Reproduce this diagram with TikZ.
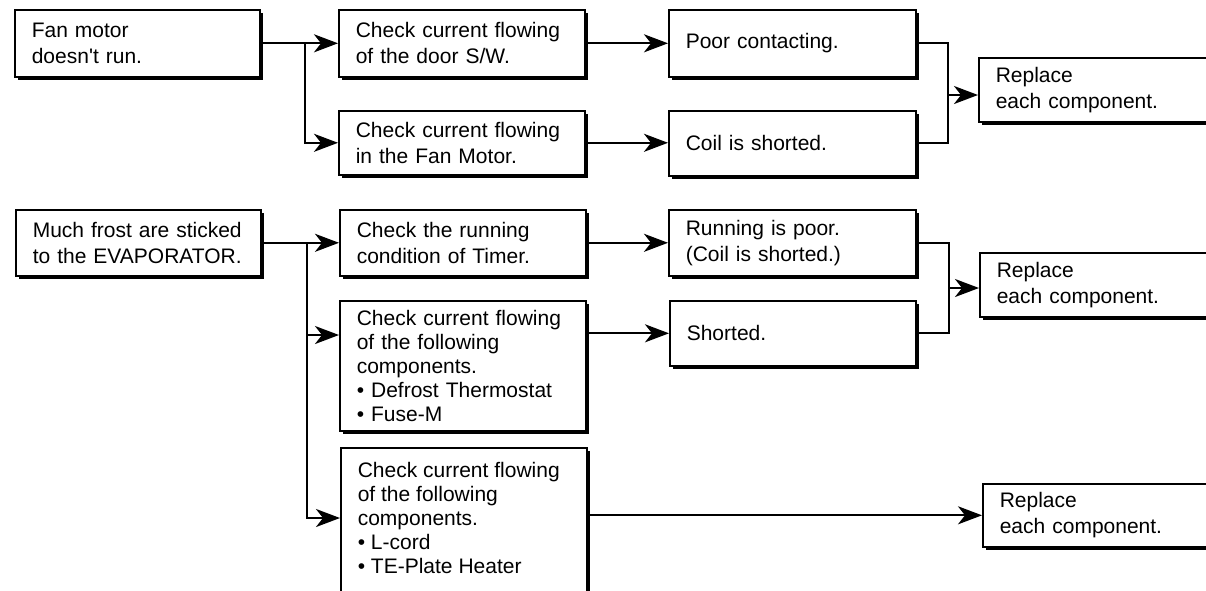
\documentclass[tikz,border=0pt]{standalone}
\usepackage{fontspec}
\setmainfont{Liberation Sans}
\usetikzlibrary{arrows.meta,shadows}
\begin{document}
\begin{tikzpicture}[x=1pt,y=-1pt,
  boxbase/.style={draw, line width=1.6pt, fill=white, rectangle, anchor=north west,
    inner xsep=17pt, inner ysep=0pt, font=\fontsize{21}{26}\selectfont,
    general shadow={fill=black, shadow xshift=3pt, shadow yshift=-3pt}},
  box/.style={boxbase, align=left},
  conn/.style={line width=2.3pt},
  arr/.style={conn, -{Stealth[length=24pt,width=18pt,inset=7pt]}}]
\useasboundingbox (0,0) rectangle (1206,590);
\clip (0,0) rectangle (1206,590);
% top group
\node[box, minimum width=245pt, minimum height=67pt, text width=211pt] (A) at (14,9) {Fan motor\\doesn\textquotesingle t run.};
\node[box, minimum width=246pt, minimum height=67pt, text width=212pt] (B) at (338,9) {Check current flowing\\of the door S/W.};
\node[box, minimum width=246pt, minimum height=64pt, text width=212pt] (C) at (338,110) {Check current flowing\\in the Fan Motor.};
\node[box, minimum width=247pt, minimum height=67pt, text width=213pt] (D) at (668,9) {Poor contacting.};
\node[box, minimum width=247pt, minimum height=65pt, text width=213pt] (E) at (668,110) {Coil is shorted.};
\node[box, minimum width=237pt, minimum height=64pt, text width=203pt] (F) at (978,57) {Replace\\each component.};
% bottom group
\node[box, minimum width=245pt, minimum height=66pt, text width=211pt] (G) at (15,209) {Much frost are sticked\\to the EVAPORATOR.};
\node[box, minimum width=246pt, minimum height=66pt, text width=212pt] (H) at (339,209) {Check the running\\condition of Timer.};
\node[box, minimum width=246pt, minimum height=130pt, text width=212pt, font=\fontsize{21}{24}\selectfont] (I) at (339,300) {Check current flowing\\of the following\\components.\\• Defrost Thermostat\\• Fuse-M};
\node[boxbase, minimum width=246pt, inner ysep=14pt] (J) at (340,447) {\parbox[t][170pt][t]{212pt}{\fontsize{21}{24}\selectfont Check current flowing\\of the following\\components.\\• L-cord\\• TE-Plate Heater}};
\node[box, minimum width=247pt, minimum height=66pt, text width=213pt] (K) at (668,209) {Running is poor.\\(Coil is shorted.)};
\node[box, minimum width=246pt, minimum height=65pt, text width=212pt] (L) at (669,300) {Shorted.};
\node[box, minimum width=236pt, minimum height=64pt, text width=202pt] (M) at (979,252) {Replace\\each component.};
\node[box, minimum width=233pt, minimum height=63pt, text width=199pt] (N) at (982,483) {Replace\\each component.};
% connectors top
\coordinate (j1) at (305,0);
\draw[arr] (A.east) -- (A.east -| B.west);
\draw[arr] (A.east -| j1) |- (C.west);
\draw[arr] (B.east) -- (B.east -| D.west);
\draw[arr] (C.east) -- (C.east -| E.west);
\coordinate (r1) at (948,95);
\draw[conn] (D.east) -| (r1) |- (E.east);
\draw[arr] (r1) -- (r1 -| F.west);
% connectors bottom
\coordinate (j2) at (307,0);
\coordinate (ai) at (307,335);
\coordinate (aj) at (307,518);
\draw[arr] (G.east) -- (G.east -| H.west);
\draw[arr] (G.east -| j2) -- (aj) -- (aj -| J.west);
\draw[arr] (ai) -- (ai -| I.west);
\draw[arr] (H.east) -- (H.east -| K.west);
\draw[arr] (I.east |- L.west) -- (L.west);
\coordinate (r2) at (949,288);
\draw[conn] (K.east) -| (r2) |- (L.east);
\draw[arr] (r2) -- (r2 -| M.west);
\draw[arr] (J.east |- N.west) -- (N.west);
\end{tikzpicture}
\end{document}
